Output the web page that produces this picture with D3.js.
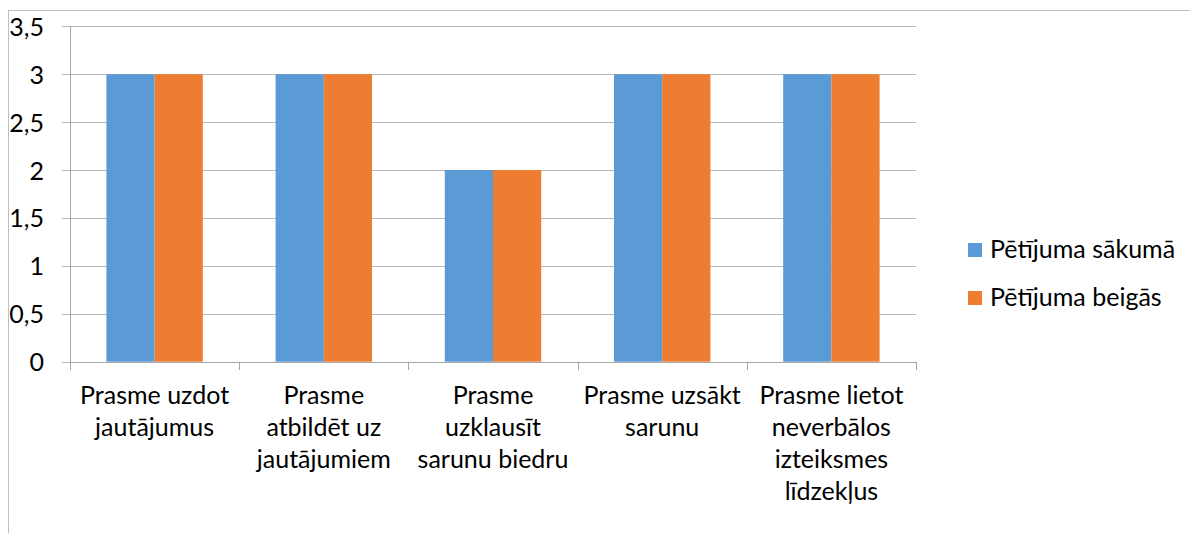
<!DOCTYPE html>
<html><head><meta charset="utf-8">
<script src="https://cdn.jsdelivr.net/npm/d3@7"></script>
<style>body{margin:0;background:#fff}svg{display:block}text{font-family:Lato,"Open Sans",sans-serif;fill:#000}</style>
</head><body>
<svg id="c" width="1190" height="533"></svg>
<script>
const categories = [
  ["Prasme uzdot","jautājumus"],
  ["Prasme","atbildēt uz","jautājumiem"],
  ["Prasme","uzklausīt","sarunu biedru"],
  ["Prasme uzsākt","sarunu"],
  ["Prasme lietot","neverbālos","izteiksmes","līdzekļus"]
];
const seriesNames = ["Pētījuma sākumā","Pētījuma beigās"];
const sakuma = [3,3,2,3,3];
const beigas = [3,3,2,3,3];
const yTicks = [0,0.5,1,1.5,2,2.5,3,3.5];
const colors = ["#5B9BD5","#ED7D31"];

const svg = d3.select("#c");
const fs = 25;
const L=70, R=916, T=26.3, B=361.7;
const keys = categories.map((c,i)=>"c"+i);
const x0 = d3.scaleBand().domain(keys).range([L,R]).padding(0);
const x1 = d3.scaleBand().domain(seriesNames).range([0,x0.bandwidth()]).paddingInner(0).paddingOuter(0.755);
const y = d3.scaleLinear().domain([0,3.5]).range([B,T]);
const color = d3.scaleOrdinal().domain(seriesNames).range(colors);

// outer border
svg.append("rect").attr("x",8.5).attr("y",10.5).attr("width",1300).attr("height",600)
  .attr("fill","none").attr("stroke","#BFBFBF").attr("stroke-width",1);

// gridlines + y labels
const yAxis = d3.axisLeft(y).tickValues(yTicks).tickSize(-(R-L)).tickPadding(0)
  .tickFormat(d=>String(d).replace(".",","));
const gy = svg.append("g").attr("transform",`translate(${L},0)`).call(yAxis);
gy.select(".domain").remove();
gy.selectAll(".tick line").attr("stroke","#B8B8B8").attr("x1",-8).attr("shape-rendering","crispEdges");
gy.selectAll(".tick text").attr("x",-26).attr("dy","0.36em").attr("text-anchor","end")
  .style("font-size",fs+"px").style("font-family","Lato,'Open Sans',sans-serif").attr("fill","#000");

// bars
const data = categories.map((c,i)=>({k:keys[i], v:[sakuma[i],beigas[i]]}));
const g = svg.append("g");
g.selectAll("g.cat").data(data).join("g").attr("class","cat")
  .attr("transform",d=>`translate(${x0(d.k)},0)`)
  .selectAll("rect").data(d=>seriesNames.map((s,j)=>({s,v:d.v[j]}))).join("rect")
  .attr("x",d=>x1(d.s)).attr("width",x1.bandwidth())
  .attr("y",d=>y(d.v)).attr("height",d=>y(0)-y(d.v)).attr("fill",d=>color(d.s));

// axes lines
svg.append("line").attr("x1",L+0.5).attr("x2",L+0.5).attr("y1",T).attr("y2",B+8)
  .attr("stroke","#A6A6A6").attr("shape-rendering","crispEdges");
const xAxis = d3.axisBottom(x0).tickSize(0).tickFormat("");
const gx = svg.append("g").attr("transform",`translate(0,${B})`).call(xAxis);
gx.select(".domain").attr("stroke","#A6A6A6").attr("shape-rendering","crispEdges");
// boundary ticks
const bounds = keys.map(k=>x0(k)).concat([R]);
svg.selectAll("line.bt").data(bounds).join("line").attr("class","bt")
  .attr("x1",d=>Math.round(d)+0.5).attr("x2",d=>Math.round(d)+0.5).attr("y1",B).attr("y2",B+8)
  .attr("stroke","#A6A6A6").attr("shape-rendering","crispEdges");

// category labels
const lh = 32;
svg.selectAll("text.cl").data(data).join("text").attr("class","cl")
  .attr("text-anchor","middle").style("font-size",fs+"px")
  .each(function(d,i){
    const t=d3.select(this);
    categories[i].forEach((line,j)=>{
      t.append("tspan").attr("x",x0(d.k)+x0.bandwidth()/2).attr("y",404+j*lh).text(line);
    });
  });

// legend
const lg = svg.selectAll("g.lg").data(seriesNames).join("g").attr("class","lg")
  .attr("transform",(d,i)=>`translate(968,${243+i*48})`);
lg.append("rect").attr("width",14).attr("height",14).attr("fill",d=>color(d));
lg.append("text").attr("x",22).attr("y",14.5).style("font-size",fs+"px").text(d=>d);
</script>
</body></html>
